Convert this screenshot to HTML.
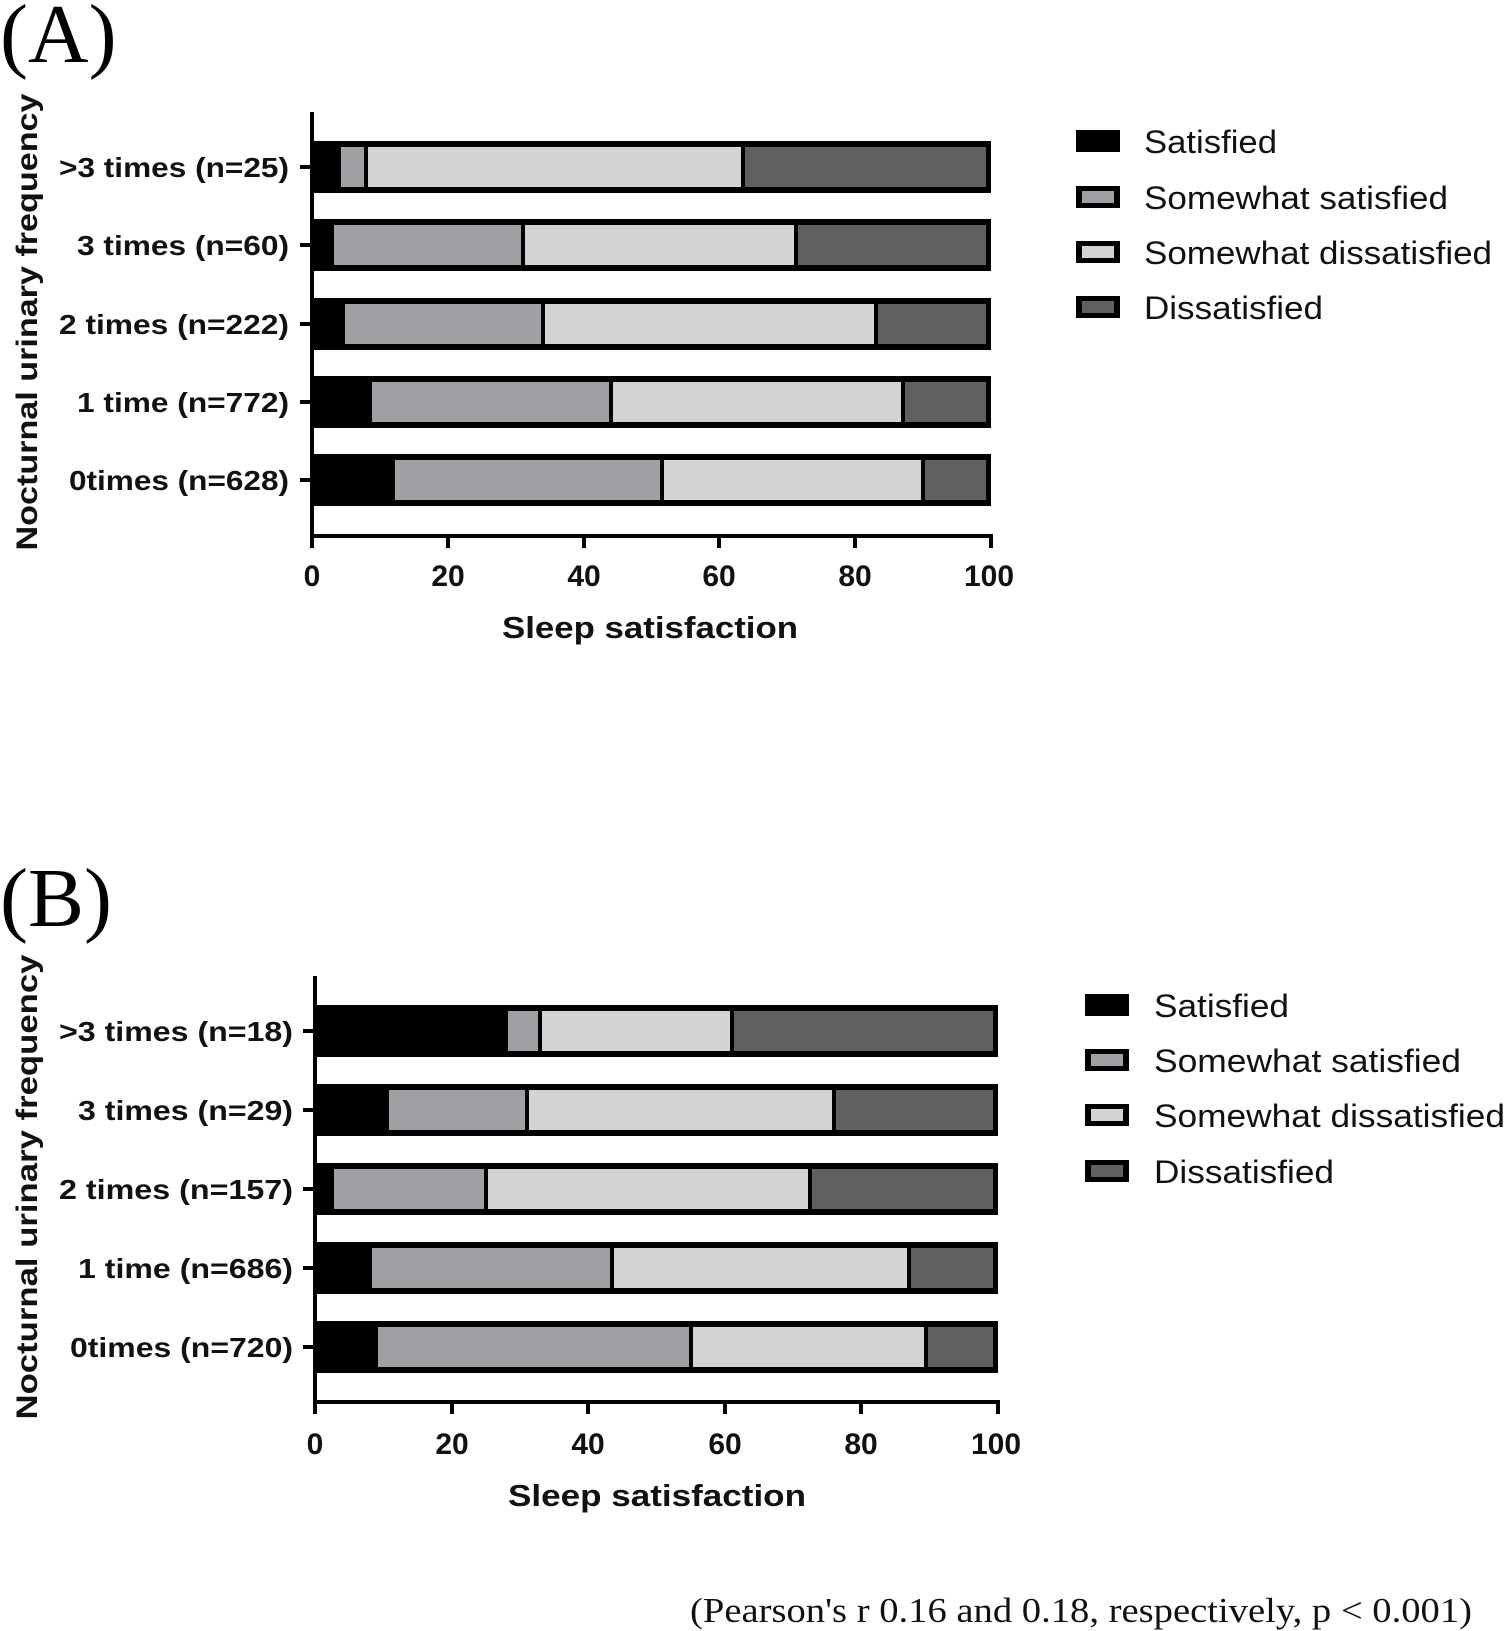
<!DOCTYPE html>
<html><head><meta charset="utf-8"><style>
html,body{margin:0;padding:0;background:#fff}
svg{display:block}
.b{font-family:"Liberation Sans",sans-serif;font-weight:bold}
.n{font-family:"Liberation Sans",sans-serif}
.s{font-family:"Liberation Serif",serif}
</style></head><body>
<svg width="1506" height="1631" viewBox="0 0 1506 1631" xmlns="http://www.w3.org/2000/svg">
<!-- Panel A -->
<text x="0" y="62" class="s" font-size="84">(A)</text>
<text transform="translate(37,322) rotate(-90)" text-anchor="middle" class="b" font-size="30" fill="#111" textLength="457" lengthAdjust="spacingAndGlyphs">Nocturnal urinary frequency</text>
<g stroke="#000" stroke-width="4">
<line x1="312" y1="112" x2="312" y2="538"/>
<line x1="310" y1="536" x2="993" y2="536"/>
<line x1="312" y1="536" x2="312" y2="548"/><line x1="448" y1="536" x2="448" y2="548"/><line x1="584" y1="536" x2="584" y2="548"/><line x1="719" y1="536" x2="719" y2="548"/><line x1="855" y1="536" x2="855" y2="548"/><line x1="991" y1="536" x2="991" y2="548"/>
<line x1="300" y1="167" x2="312" y2="167"/><line x1="300" y1="245" x2="312" y2="245"/><line x1="300" y1="324" x2="312" y2="324"/><line x1="300" y1="402" x2="312" y2="402"/><line x1="300" y1="480" x2="312" y2="480"/>
</g>
<g class="b" font-size="28" fill="#111" lengthAdjust="spacingAndGlyphs">
<text x="59" y="177" textLength="230" lengthAdjust="spacingAndGlyphs">&gt;3 times (n=25)</text>
<text x="77" y="255" textLength="212" lengthAdjust="spacingAndGlyphs">3 times (n=60)</text>
<text x="59" y="334" textLength="230" lengthAdjust="spacingAndGlyphs">2 times (n=222)</text>
<text x="77" y="412" textLength="212" lengthAdjust="spacingAndGlyphs">1 time (n=772)</text>
<text x="69" y="490" textLength="220" lengthAdjust="spacingAndGlyphs">0times (n=628)</text>
</g>
<g class="b" font-size="30" text-anchor="middle" fill="#111">
<text x="312" y="586">0</text><text x="448" y="586">20</text><text x="584" y="586">40</text><text x="719" y="586">60</text><text x="855" y="586">80</text><text x="989" y="586">100</text>
<text x="650" y="638" font-size="31" textLength="296" lengthAdjust="spacingAndGlyphs">Sleep satisfaction</text>
</g>
<g>
<rect x="312" y="141" width="679" height="52" fill="#000"/>
<rect x="341" y="147" width="23" height="40" fill="#a0a0a4"/><rect x="368" y="147" width="373" height="40" fill="#d3d3d3"/><rect x="745" y="147" width="241" height="40" fill="#606060"/>
<rect x="312" y="219" width="679" height="52" fill="#000"/>
<rect x="334" y="225" width="187" height="40" fill="#a0a0a4"/><rect x="525" y="225" width="269" height="40" fill="#d3d3d3"/><rect x="798" y="225" width="188" height="40" fill="#606060"/>
<rect x="312" y="298" width="679" height="52" fill="#000"/>
<rect x="345" y="304" width="196" height="40" fill="#a0a0a4"/><rect x="545" y="304" width="329" height="40" fill="#d3d3d3"/><rect x="878" y="304" width="108" height="40" fill="#606060"/>
<rect x="312" y="376" width="679" height="52" fill="#000"/>
<rect x="372" y="382" width="237" height="40" fill="#a0a0a4"/><rect x="613" y="382" width="288" height="40" fill="#d3d3d3"/><rect x="905" y="382" width="81" height="40" fill="#606060"/>
<rect x="312" y="454" width="679" height="52" fill="#000"/>
<rect x="395" y="460" width="265" height="40" fill="#a0a0a4"/><rect x="664" y="460" width="257" height="40" fill="#d3d3d3"/><rect x="925" y="460" width="61" height="40" fill="#606060"/>
</g>
<g>
<rect x="1076" y="130" width="44" height="22" fill="#000"/>
<rect x="1076" y="186" width="44" height="22" fill="#000"/><rect x="1082" y="191" width="32" height="12" fill="#a0a0a4"/>
<rect x="1076" y="241" width="44" height="22" fill="#000"/><rect x="1082" y="246" width="32" height="12" fill="#d3d3d3"/>
<rect x="1076" y="296" width="44" height="22" fill="#000"/><rect x="1082" y="301" width="32" height="12" fill="#606060"/>
</g>
<g class="n" font-size="32" fill="#111">
<text x="1144" y="153" textLength="133" lengthAdjust="spacingAndGlyphs">Satisfied</text>
<text x="1144" y="209" textLength="304" lengthAdjust="spacingAndGlyphs">Somewhat satisfied</text>
<text x="1144" y="264" textLength="348" lengthAdjust="spacingAndGlyphs">Somewhat dissatisfied</text>
<text x="1144" y="319" textLength="179" lengthAdjust="spacingAndGlyphs">Dissatisfied</text>
</g>

<!-- Panel B -->
<text x="0" y="926" class="s" font-size="84">(B)</text>
<text transform="translate(37,1187) rotate(-90)" text-anchor="middle" class="b" font-size="30" fill="#111" textLength="465" lengthAdjust="spacingAndGlyphs">Nocturnal urinary frequency</text>
<g stroke="#000" stroke-width="4">
<line x1="315" y1="976" x2="315" y2="1404"/>
<line x1="313" y1="1402" x2="1000" y2="1402"/>
<line x1="315" y1="1402" x2="315" y2="1414"/><line x1="452" y1="1402" x2="452" y2="1414"/><line x1="588" y1="1402" x2="588" y2="1414"/><line x1="725" y1="1402" x2="725" y2="1414"/><line x1="861" y1="1402" x2="861" y2="1414"/><line x1="998" y1="1402" x2="998" y2="1414"/>
<line x1="303" y1="1031" x2="315" y2="1031"/><line x1="303" y1="1110" x2="315" y2="1110"/><line x1="303" y1="1189" x2="315" y2="1189"/><line x1="303" y1="1268" x2="315" y2="1268"/><line x1="303" y1="1347" x2="315" y2="1347"/>
</g>
<g class="b" font-size="28" fill="#111">
<text x="59" y="1041" textLength="234" lengthAdjust="spacingAndGlyphs">&gt;3 times (n=18)</text>
<text x="78" y="1120" textLength="215" lengthAdjust="spacingAndGlyphs">3 times (n=29)</text>
<text x="59" y="1199" textLength="234" lengthAdjust="spacingAndGlyphs">2 times (n=157)</text>
<text x="78" y="1278" textLength="215" lengthAdjust="spacingAndGlyphs">1 time (n=686)</text>
<text x="70" y="1357" textLength="223" lengthAdjust="spacingAndGlyphs">0times (n=720)</text>
</g>
<g class="b" font-size="30" text-anchor="middle" fill="#111">
<text x="315" y="1454">0</text><text x="452" y="1454">20</text><text x="588" y="1454">40</text><text x="725" y="1454">60</text><text x="861" y="1454">80</text><text x="996" y="1454">100</text>
<text x="657" y="1506" font-size="31" textLength="298" lengthAdjust="spacingAndGlyphs">Sleep satisfaction</text>
</g>
<g>
<rect x="315" y="1005" width="683" height="52" fill="#000"/>
<rect x="508" y="1011" width="30" height="40" fill="#a0a0a4"/><rect x="542" y="1011" width="188" height="40" fill="#d3d3d3"/><rect x="734" y="1011" width="259" height="40" fill="#606060"/>
<rect x="315" y="1084" width="683" height="52" fill="#000"/>
<rect x="389" y="1090" width="136" height="40" fill="#a0a0a4"/><rect x="529" y="1090" width="303" height="40" fill="#d3d3d3"/><rect x="836" y="1090" width="157" height="40" fill="#606060"/>
<rect x="315" y="1163" width="683" height="52" fill="#000"/>
<rect x="334" y="1169" width="150" height="40" fill="#a0a0a4"/><rect x="488" y="1169" width="320" height="40" fill="#d3d3d3"/><rect x="812" y="1169" width="181" height="40" fill="#606060"/>
<rect x="315" y="1242" width="683" height="52" fill="#000"/>
<rect x="372" y="1248" width="238" height="40" fill="#a0a0a4"/><rect x="614" y="1248" width="293" height="40" fill="#d3d3d3"/><rect x="911" y="1248" width="82" height="40" fill="#606060"/>
<rect x="315" y="1321" width="683" height="52" fill="#000"/>
<rect x="378" y="1327" width="311" height="40" fill="#a0a0a4"/><rect x="693" y="1327" width="231" height="40" fill="#d3d3d3"/><rect x="928" y="1327" width="65" height="40" fill="#606060"/>
</g>
<g>
<rect x="1085" y="994" width="44" height="22" fill="#000"/>
<rect x="1085" y="1049" width="44" height="22" fill="#000"/><rect x="1091" y="1054" width="32" height="12" fill="#a0a0a4"/>
<rect x="1085" y="1104" width="44" height="22" fill="#000"/><rect x="1091" y="1109" width="32" height="12" fill="#d3d3d3"/>
<rect x="1085" y="1160" width="44" height="22" fill="#000"/><rect x="1091" y="1165" width="32" height="12" fill="#606060"/>
</g>
<g class="n" font-size="32" fill="#111">
<text x="1154" y="1017" textLength="135" lengthAdjust="spacingAndGlyphs">Satisfied</text>
<text x="1154" y="1072" textLength="307" lengthAdjust="spacingAndGlyphs">Somewhat satisfied</text>
<text x="1154" y="1127" textLength="351" lengthAdjust="spacingAndGlyphs">Somewhat dissatisfied</text>
<text x="1154" y="1183" textLength="180" lengthAdjust="spacingAndGlyphs">Dissatisfied</text>
</g>
<text x="690" y="1622" class="s" font-size="35" fill="#111" textLength="782" lengthAdjust="spacingAndGlyphs">(Pearson's r 0.16 and 0.18, respectively, p &lt; 0.001)</text>
</svg>
</body></html>
